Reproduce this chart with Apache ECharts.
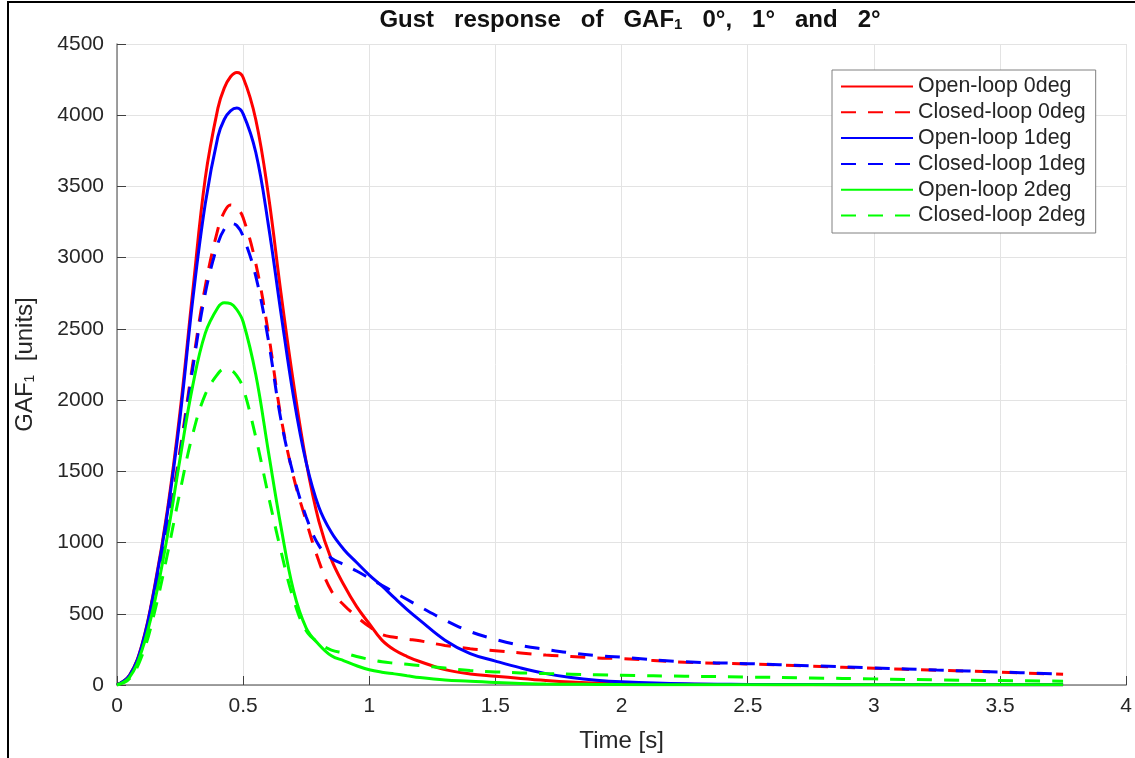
<!DOCTYPE html>
<html>
<head>
<meta charset="utf-8">
<script src="https://cdn.jsdelivr.net/npm/echarts@6/dist/echarts.min.js"></script>
<style>
html, body { margin: 0; padding: 0; background: #fff; }
#gust_chart { width: 1135px; height: 758px; }
</style>
</head>
<body>
<div id="gust_chart"></div>
<script>
// time samples [s]
var timeData = [0, 0.05, 0.1, 0.15, 0.2, 0.25, 0.3, 0.35, 0.4, 0.425,
	0.45, 0.475, 0.5, 0.55, 0.6, 0.65, 0.7, 0.75, 0.8, 0.85,
	0.9, 0.95, 1.0, 1.05, 1.1, 1.15, 1.2, 1.3, 1.4, 1.5,
	1.6, 1.7, 1.8, 1.9, 2.0, 2.25, 2.5, 2.75, 3.0, 3.25,
	3.5, 3.75];
var openLoop0 = [0, 70, 290, 700, 1230, 1920, 2760, 3560, 4050, 4190,
	4270, 4300, 4265, 3970, 3440, 2750, 2115, 1565, 1150, 880,
	700, 550, 430, 315, 245, 200, 165, 108, 78, 62,
	46, 32, 21, 14, 9, 5, 3, 2, 2, 1,
	1, 1];
var closedLoop0 = [0, 65, 275, 680, 1120, 1650, 2250, 2800, 3200, 3320,
	3370, 3350, 3280, 2960, 2470, 1880, 1460, 1150, 870, 660,
	560, 480, 410, 355, 335, 322, 310, 278, 255, 240,
	225, 210, 200, 190, 185, 160, 148, 133, 117, 104,
	90, 75];
var openLoop1 = [0, 68, 285, 690, 1210, 1880, 2700, 3380, 3850, 3970,
	4030, 4050, 4010, 3740, 3230, 2610, 2020, 1560, 1250, 1070,
	950, 860, 772, 695, 611, 530, 456, 315, 220, 168,
	120, 80, 52, 33, 22, 8, 4, 3, 2, 1,
	1, 1];
var closedLoop1 = [0, 65, 270, 670, 1100, 1620, 2220, 2750, 3100, 3200,
	3240, 3225, 3150, 2870, 2420, 1860, 1470, 1180, 980, 890,
	845, 800, 750, 700, 650, 600, 550, 455, 375, 320,
	278, 250, 225, 207, 195, 163, 150, 135, 120, 105,
	91, 77];
var openLoop2 = [0, 55, 250, 590, 1050, 1590, 2100, 2470, 2650, 2684,
	2678, 2635, 2550, 2180, 1640, 1110, 660, 400, 285, 205,
	170, 135, 107, 90, 78, 65, 52, 35, 27, 17,
	10, 7, 5, 4, 3, 2, 2, 1, 1, 1,
	1, 1];
var closedLoop2 = [0, 45, 210, 520, 920, 1360, 1760, 2040, 2185, 2218,
	2212, 2170, 2085, 1740, 1330, 940, 600, 380, 295, 245,
	225, 200, 180, 163, 153, 145, 137, 119, 101, 92,
	85, 80, 76, 72, 68, 62, 56, 49, 43, 36,
	31, 27];
var seriesNames = ['Open-loop 0deg', 'Closed-loop 0deg', 'Open-loop 1deg',
	'Closed-loop 1deg', 'Open-loop 2deg', 'Closed-loop 2deg'];

function toPairs(values) {
	var pairs = [];
	for (var i = 0; i < timeData.length; i++) {
		pairs.push([timeData[i], values[i]]);
	}
	return pairs;
}

function makeSeries(name, values, color, dashed) {
	return {
		name : name,
		type : 'line',
		data : toPairs(values),
		symbol : 'none',
		smooth : 0.4,
		lineStyle : {
			color : color,
			width : 3,
			type : dashed ? [15, 12] : 'solid'
		},
		itemStyle : {
			color : color
		}
	};
}

var font = 'Liberation Sans, Arial, sans-serif';
var myChart = echarts.init(document.getElementById('gust_chart'));
var option = {
	animation : false,
	backgroundColor : '#fff',
	title : {
		text : 'Gust   response   of   GAF{s|1}   0°,   1°   and   2°',
		left : 625,
		top : 3,
		textAlign : 'center',
		textStyle : {
			fontFamily : font,
			fontSize : 24,
			fontWeight : 'bold',
			color : '#111',
			rich : {
				s : {
					fontFamily : font,
					fontSize : 15,
					fontWeight : 'bold',
					color : '#111',
					verticalAlign : 'bottom',
					lineHeight : 15
				}
			}
		}
	},
	legend : {
		orient : 'vertical',
		left : 832,
		top : 70,
		padding : [6, 10, 7, 8],
		itemWidth : 72,
		itemHeight : 14,
		itemGap : 4.8,
		backgroundColor : '#fff',
		borderColor : '#808080',
		borderWidth : 1,
		data : seriesNames,
		itemStyle : {
			opacity : 0
		},
		textStyle : {
			fontFamily : font,
			fontSize : 21.4,
			lineHeight : 20,
			color : '#262626'
		}
	},
	grid : {
		left : 117,
		right : 4,
		top : 44,
		bottom : 71
	},
	xAxis : {
		type : 'value',
		min : 0,
		max : 4,
		interval : 0.5,
		name : 'Time [s]',
		nameLocation : 'middle',
		nameGap : 44,
		nameTextStyle : {
			fontFamily : font,
			fontSize : 24,
			color : '#262626'
		},
		axisLine : {
			lineStyle : {
				color : '#808080',
				width : 1.5
			}
		},
		axisTick : {
			inside : true,
			length : 9,
			lineStyle : {
				color : '#404040'
			}
		},
		axisLabel : {
			fontFamily : font,
			fontSize : 21,
			color : '#262626',
			margin : 11
		},
		splitLine : {
			show : true,
			lineStyle : {
				color : '#e3e3e3'
			}
		}
	},
	yAxis : {
		type : 'value',
		min : 0,
		max : 4500,
		interval : 500,
		name : 'GAF{s|1}  [units]',
		nameLocation : 'middle',
		nameGap : 80,
		nameTextStyle : {
			fontFamily : font,
			fontSize : 24,
			color : '#262626',
			rich : {
				s : {
					fontFamily : font,
					fontSize : 14,
					color : '#262626',
					verticalAlign : 'bottom',
					lineHeight : 14
				}
			}
		},
		axisLine : {
			show : true,
			lineStyle : {
				color : '#808080',
				width : 1.5
			}
		},
		axisTick : {
			show : true,
			inside : true,
			length : 9,
			lineStyle : {
				color : '#404040'
			}
		},
		axisLabel : {
			fontFamily : font,
			fontSize : 21,
			color : '#262626',
			margin : 13,
			formatter : function(value) {
				return String(value);
			}
		},
		splitLine : {
			show : true,
			lineStyle : {
				color : '#e3e3e3'
			}
		}
	},
	graphic : [ {
		type : 'polyline',
		shape : {
			points : [ [ 8, 758 ], [ 8, 2 ], [ 1135, 2 ] ]
		},
		style : {
			stroke : '#000',
			lineWidth : 2,
			fill : null
		},
		silent : true
	} ],
	series : [
		makeSeries(seriesNames[0], openLoop0, '#ff0000', false),
		makeSeries(seriesNames[1], closedLoop0, '#ff0000', true),
		makeSeries(seriesNames[2], openLoop1, '#0000ff', false),
		makeSeries(seriesNames[3], closedLoop1, '#0000ff', true),
		makeSeries(seriesNames[4], openLoop2, '#00ff00', false),
		makeSeries(seriesNames[5], closedLoop2, '#00ff00', true)
	]
};
myChart.setOption(option);
</script>
</body>
</html>
